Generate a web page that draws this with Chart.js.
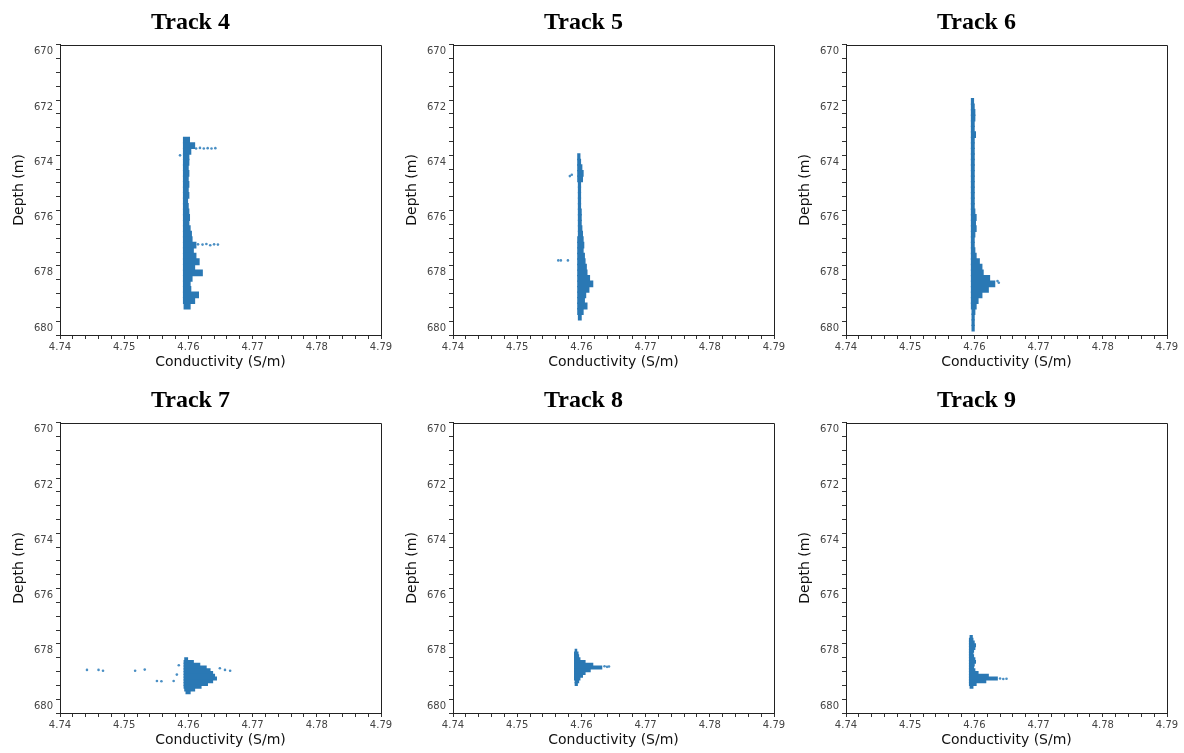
<!DOCTYPE html>
<html>
<head>
<meta charset="utf-8">
<script src="https://cdn.jsdelivr.net/npm/chart.js@4.4.1/dist/chart.umd.min.js"></script>
<style>
  html, body { margin: 0; padding: 0; background: #fff; overflow: hidden; }
  #wrap { position: relative; width: 1184px; height: 753px; }
  .panel { position: absolute; width: 396px; height: 377px; }
</style>
</head>
<body>
<div id="wrap"></div>
<script>
// axis ranges and ticks (shared by all six panels)
const depthRange = [670, 680];
const condRange = [4.74, 4.79];
const depthTicks = [670, 672, 674, 676, 678, 680];
const condTicks = [4.74, 4.75, 4.76, 4.77, 4.78, 4.79];

const trackNames = ['Track 4', 'Track 5', 'Track 6', 'Track 7', 'Track 8', 'Track 9'];

// dense part of each cloud: [depth, min conductivity, max conductivity]
const track4Rows = [
  [673.2, 4.7592, 4.7602], [673.4, 4.7592, 4.7610], [673.6, 4.7592, 4.7604], [673.8, 4.7592, 4.7601],
  [674.0, 4.7592, 4.7601], [674.2, 4.7592, 4.7600], [674.4, 4.7592, 4.7601], [674.6, 4.7592, 4.7600],
  [674.8, 4.7592, 4.7601], [675.0, 4.7592, 4.7600], [675.2, 4.7592, 4.7601], [675.4, 4.7592, 4.7599],
  [675.6, 4.7592, 4.7600], [675.8, 4.7592, 4.7601], [676.0, 4.7592, 4.7602], [676.2, 4.7592, 4.7601],
  [676.4, 4.7592, 4.7603], [676.6, 4.7592, 4.7605], [676.8, 4.7592, 4.7606], [677.0, 4.7592, 4.7612],
  [677.2, 4.7592, 4.7608], [677.4, 4.7592, 4.7612], [677.6, 4.7592, 4.7617], [677.8, 4.7592, 4.7610],
  [678.0, 4.7592, 4.7622], [678.2, 4.7592, 4.7606], [678.4, 4.7592, 4.7603], [678.6, 4.7592, 4.7604],
  [678.8, 4.7592, 4.7616], [679.0, 4.7592, 4.7610], [679.2, 4.7593, 4.7603]
];
const track5Rows = [
  [673.8, 4.7594, 4.7598], [674.0, 4.7594, 4.7599], [674.2, 4.7594, 4.7601], [674.4, 4.7594, 4.7603],
  [674.6, 4.7594, 4.7602], [674.8, 4.7595, 4.7599], [675.0, 4.7595, 4.7599], [675.2, 4.7595, 4.7599],
  [675.4, 4.7595, 4.7599], [675.6, 4.7595, 4.7599], [675.8, 4.7595, 4.7600], [676.0, 4.7595, 4.7600],
  [676.2, 4.7595, 4.7600], [676.4, 4.7595, 4.7601], [676.6, 4.7595, 4.7602], [676.8, 4.7594, 4.7603],
  [677.0, 4.7594, 4.7604], [677.2, 4.7594, 4.7603], [677.4, 4.7594, 4.7605], [677.6, 4.7594, 4.7606],
  [677.8, 4.7594, 4.7608], [678.0, 4.7594, 4.7609], [678.2, 4.7594, 4.7613], [678.4, 4.7594, 4.7618],
  [678.6, 4.7594, 4.7612], [678.8, 4.7594, 4.7607], [679.0, 4.7594, 4.7605], [679.2, 4.7594, 4.7609],
  [679.4, 4.7594, 4.7603], [679.6, 4.7595, 4.7600]
];
const track6Rows = [
  [671.8, 4.7595, 4.7599], [672.0, 4.7595, 4.7600], [672.2, 4.7595, 4.7601], [672.4, 4.7595, 4.7601],
  [672.6, 4.7595, 4.7600], [672.8, 4.7595, 4.7600], [673.0, 4.7595, 4.7602], [673.2, 4.7595, 4.7600],
  [673.4, 4.7595, 4.7600], [673.6, 4.7595, 4.7600], [673.8, 4.7595, 4.7600], [674.0, 4.7595, 4.7600],
  [674.2, 4.7595, 4.7600], [674.4, 4.7595, 4.7600], [674.6, 4.7595, 4.7600], [674.8, 4.7595, 4.7600],
  [675.0, 4.7595, 4.7600], [675.2, 4.7595, 4.7600], [675.4, 4.7595, 4.7600], [675.6, 4.7595, 4.7600],
  [675.8, 4.7595, 4.7601], [676.0, 4.7595, 4.7603], [676.2, 4.7595, 4.7602], [676.4, 4.7595, 4.7603],
  [676.6, 4.7595, 4.7601], [676.8, 4.7595, 4.7600], [677.0, 4.7595, 4.7600], [677.2, 4.7595, 4.7601],
  [677.4, 4.7595, 4.7603], [677.6, 4.7595, 4.7608], [677.8, 4.7595, 4.7612], [678.0, 4.7595, 4.7614],
  [678.2, 4.7595, 4.7624], [678.4, 4.7595, 4.7632], [678.6, 4.7595, 4.7622], [678.8, 4.7595, 4.7612],
  [679.0, 4.7595, 4.7606], [679.2, 4.7595, 4.7603], [679.4, 4.7596, 4.7601], [679.6, 4.7596, 4.7600],
  [679.8, 4.7596, 4.7600], [680.0, 4.7596, 4.7600]
];
const track7Rows = [
  [678.3, 4.7594, 4.7599], [678.4, 4.7593, 4.7608], [678.5, 4.7593, 4.7618], [678.6, 4.7593, 4.7628],
  [678.7, 4.7593, 4.7634], [678.8, 4.7593, 4.7638], [678.9, 4.7593, 4.7641], [679.0, 4.7593, 4.7644],
  [679.1, 4.7593, 4.7638], [679.2, 4.7593, 4.7630], [679.3, 4.7593, 4.7620], [679.4, 4.7594, 4.7610],
  [679.5, 4.7596, 4.7603]
];
const track8Rows = [
  [678.0, 4.7590, 4.7593], [678.1, 4.7589, 4.7595], [678.2, 4.7589, 4.7596], [678.3, 4.7589, 4.7598],
  [678.4, 4.7589, 4.7606], [678.5, 4.7589, 4.7618], [678.6, 4.7589, 4.7632], [678.7, 4.7589, 4.7614],
  [678.8, 4.7589, 4.7606], [678.9, 4.7589, 4.7602], [679.0, 4.7589, 4.7598], [679.1, 4.7590, 4.7596],
  [679.2, 4.7590, 4.7594]
];
const track9Rows = [
  [677.5, 4.7593, 4.7597], [677.6, 4.7592, 4.7598], [677.7, 4.7592, 4.7600], [677.8, 4.7592, 4.7602],
  [677.9, 4.7592, 4.7601], [678.0, 4.7592, 4.7599], [678.1, 4.7592, 4.7598], [678.2, 4.7592, 4.7599],
  [678.3, 4.7592, 4.7601], [678.4, 4.7592, 4.7602], [678.5, 4.7592, 4.7600], [678.6, 4.7592, 4.7599],
  [678.7, 4.7592, 4.7601], [678.8, 4.7592, 4.7606], [678.9, 4.7592, 4.7622], [679.0, 4.7592, 4.7636],
  [679.1, 4.7592, 4.7618], [679.2, 4.7592, 4.7603], [679.3, 4.7593, 4.7598]
];

// depth spacing of the rows above, per track
const rowSteps = [0.2, 0.2, 0.2, 0.1, 0.1, 0.1];

// sparse points outside the dense part: [conductivity, depth]
const track4Points = [
  [4.7612, 673.50], [4.7618, 673.48], [4.7624, 673.50], [4.7630, 673.49], [4.7636, 673.50], [4.7642, 673.49],
  [4.7587, 673.75], [4.7615, 676.97], [4.7622, 676.98], [4.7628, 676.96], [4.7634, 677.00], [4.7640, 676.97],
  [4.7646, 676.98]
];
const track5Points = [
  [4.7582, 674.50], [4.7585, 674.45], [4.7564, 677.55], [4.7568, 677.55], [4.7579, 677.55]
];
const track6Points = [
  [4.7636, 678.30], [4.7638, 678.36]
];
const track7Points = [
  [4.7442, 678.69], [4.7460, 678.69], [4.7467, 678.72], [4.7517, 678.72], [4.7532, 678.68],
  [4.7551, 679.09], [4.7558, 679.10], [4.7577, 679.09], [4.7582, 678.86], [4.7585, 678.52],
  [4.7649, 678.63], [4.7657, 678.69], [4.7665, 678.72]
];
const track8Points = [
  [4.7636, 678.56], [4.7640, 678.58], [4.7643, 678.57]
];
const track9Points = [
  [4.7640, 679.00], [4.7645, 679.02], [4.7650, 679.01]
];

const allRows = [track4Rows, track5Rows, track6Rows, track7Rows, track8Rows, track9Rows];
const allPoints = [track4Points, track5Points, track6Points, track7Points, track8Points, track9Points];

// plot-area top-left corners of the six panels
const plotLefts = [60, 453, 846];
const plotTops = [45, 423];
const plotHeight = 290;

const blue = '#2a78b4';
const tickFont = { family: 'DejaVu Sans', size: 10 };
const labelFont = { family: 'DejaVu Sans', size: 14 };

// closes the box on the top and right sides
const frame = {
  id: 'frame',
  afterDraw(chart) {
    const a = chart.chartArea;
    const c = chart.ctx;
    c.save();
    c.strokeStyle = '#222';
    c.lineWidth = 1;
    c.beginPath();
    c.moveTo(a.left, Math.round(a.top) + 0.5);
    c.lineTo(Math.round(a.right) + 0.5, Math.round(a.top) + 0.5);
    c.lineTo(Math.round(a.right) + 0.5, a.bottom);
    c.stroke();
    c.restore();
  }
};

const wrap = document.getElementById('wrap');

trackNames.forEach((name, i) => {
  const col = i % 3, row = Math.floor(i / 3);
  const box = document.createElement('div');
  box.className = 'panel';
  box.style.left = (plotLefts[col] - 60) + 'px';
  box.style.top = (plotTops[row] - 45) + 'px';
  const cv = document.createElement('canvas');
  box.appendChild(cv);
  wrap.appendChild(box);

  // bar height covers one row step so the rows join up
  const thick = rowSteps[i] / (depthRange[1] - depthRange[0]) * plotHeight + 0.4;

  new Chart(cv, {
    type: 'bar',
    data: {
      datasets: [
        {
          type: 'bar',
          indexAxis: 'y',
          data: allRows[i].map(r => ({ y: r[0], x: [r[1], r[2]] })),
          backgroundColor: blue,
          borderWidth: 0,
          barThickness: thick
        },
        {
          type: 'scatter',
          indexAxis: 'x',
          data: allPoints[i].map(p => ({ x: p[0], y: p[1] })),
          backgroundColor: '#4a8fc4',
          borderWidth: 0,
          pointRadius: 1.3
        }
      ]
    },
    options: {
      responsive: true,
      maintainAspectRatio: false,
      animation: false,
      indexAxis: 'y',
      layout: { padding: { left: 0, top: 0, right: 15, bottom: 0 } },
      plugins: {
        legend: { display: false },
        tooltip: { enabled: false },
        title: {
          display: true,
          text: name,
          color: '#000',
          font: { family: 'Liberation Serif', size: 24, weight: 'bold' },
          padding: { top: 8, bottom: 8 }
        }
      },
      scales: {
        x: {
          type: 'linear',
          position: 'bottom',
          min: condRange[0],
          max: condRange[1],
          afterFit(s) { s.height = 42; s.paddingLeft = 0; s.paddingRight = 0; },
          ticks: {
            stepSize: 0.002,
            autoSkip: false,
            maxRotation: 0,
            padding: 2,
            color: '#444',
            font: tickFont,
            callback: v => {
              const hit = condTicks.find(t => Math.abs(t - v) < 1e-7);
              return hit !== undefined ? hit.toFixed(2) : '';
            }
          },
          grid: { drawOnChartArea: false, drawTicks: true, tickLength: 4, color: '#333' },
          border: { display: true, color: '#222', width: 1 },
          title: {
            display: true,
            text: 'Conductivity (S/m)',
            color: '#111',
            font: labelFont,
            padding: { top: 0, bottom: 6 }
          }
        },
        y: {
          type: 'linear',
          position: 'left',
          reverse: true,
          min: depthRange[0],
          max: depthRange[1],
          afterFit(s) { s.width = 60; s.paddingTop = 0; s.paddingBottom = 0; },
          ticks: {
            stepSize: 0.5,
            autoSkip: false,
            padding: 3,
            color: '#444',
            font: tickFont,
            callback: v => depthTicks.includes(v) ? String(v) : ''
          },
          grid: { drawOnChartArea: false, drawTicks: true, tickLength: 4, color: '#333' },
          border: { display: true, color: '#222', width: 1 },
          title: {
            display: true,
            text: 'Depth (m)',
            color: '#111',
            font: labelFont,
            padding: { top: 11, bottom: 0 }
          }
        }
      }
    },
    plugins: [frame]
  });
});
</script>
</body>
</html>
